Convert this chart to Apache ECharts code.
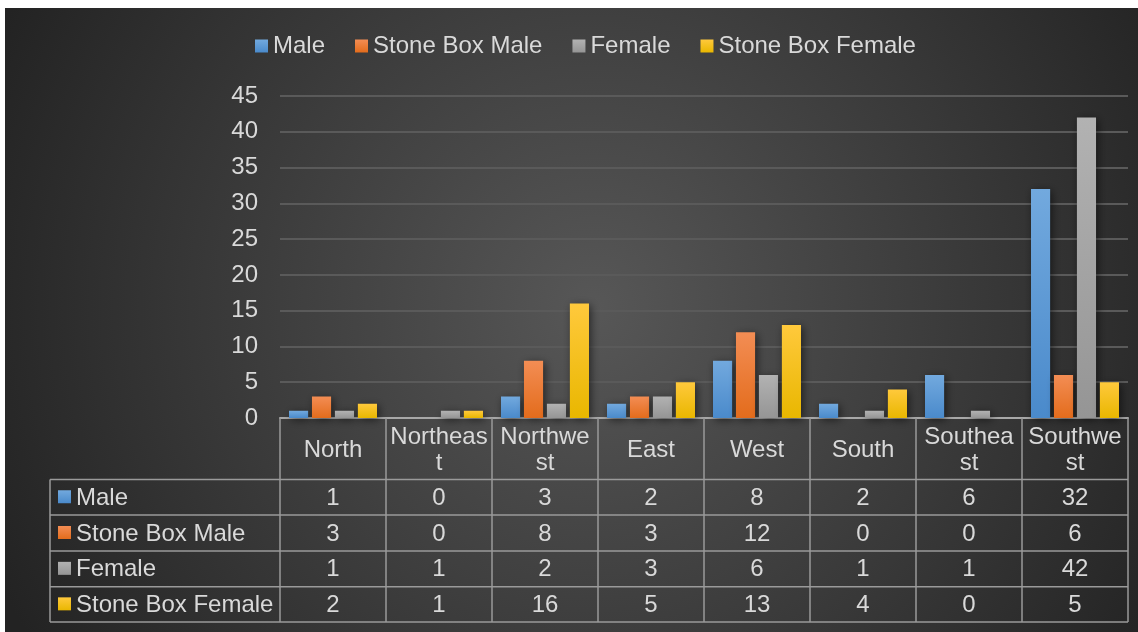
<!DOCTYPE html>
<html>
<head>
<meta charset="utf-8">
<script src="https://cdn.jsdelivr.net/npm/echarts@6/dist/echarts.min.js"></script>
<style>
html,body{margin:0;padding:0;background:#fff;}
#c{width:1138px;height:632px;}
</style>
</head>
<body>
<div id="c"></div>
<script>
var categories = ['North','Northeast','Northwest','East','West','South','Southeast','Southwest'];
var categoryLabels = ['North','Northeas\nt','Northwe\nst','East','West','South','Southea\nst','Southwe\nst'];
var seriesNames = ['Male','Stone Box Male','Female','Stone Box Female'];
var male = [1,0,3,2,8,2,6,32];
var stoneBoxMale = [3,0,8,3,12,0,0,6];
var female = [1,1,2,3,6,1,1,42];
var stoneBoxFemale = [2,1,16,5,13,4,0,5];
var yTicks = {min:0, max:45, interval:5};

var seriesData = [male, stoneBoxMale, female, stoneBoxFemale];
var palettes = [
  ['#72a9de','#4a8acb'],
  ['#f38d54','#e36c1c'],
  ['#b2b2b2','#959595'],
  ['#ffc93c','#e9b700']
];
var FONT = 'Liberation Sans, Arial, sans-serif';
var TXT = '#d9d9d9';
var LINE = '#9a9a9a';

function grad(p){
  return new echarts.graphic.LinearGradient(0,0,0,1,[{offset:0,color:p[0]},{offset:1,color:p[1]}]);
}

var chart = echarts.init(document.getElementById('c'), null, {renderer:'canvas'});

var series = seriesNames.map(function(n,i){
  return {
    name:n, type:'bar', data:seriesData[i],
    barGap:'20%', barCategoryGap:'17%',
    itemStyle:{color:grad(palettes[i]), shadowColor:'rgba(0,0,0,0.55)', shadowBlur:8, shadowOffsetX:2, shadowOffsetY:2},
    emphasis:{disabled:true}
  };
});

var option = {
  backgroundColor:'#ffffff',
  animation:false,
  textStyle:{fontFamily:FONT},
  legend:{
    left:255, top:34, padding:0, itemWidth:13, itemHeight:13, itemGap:30,
    icon:'rect',
    textStyle:{color:TXT, fontSize:24, fontFamily:FONT},
    data:seriesNames.map(function(n,i){return {name:n, itemStyle:{color:grad(palettes[i]), shadowBlur:0}};})
  },
  grid:{left:280, right:10, top:96, bottom:214, containLabel:false},
  xAxis:{
    type:'category', data:categories,
    axisLine:{show:true, lineStyle:{color:'#a8a8a8', width:2}},
    axisTick:{show:false},
    axisLabel:{
      interval:0, color:TXT, fontSize:24, fontFamily:FONT, margin:32,
      verticalAlign:'middle', lineHeight:26,
      formatter:function(v,idx){return categoryLabels[idx];}
    },
    splitLine:{show:false}
  },
  yAxis:{
    type:'value', min:yTicks.min, max:yTicks.max, interval:yTicks.interval,
    axisLine:{show:false}, axisTick:{show:false},
    axisLabel:{color:TXT, fontSize:24, fontFamily:FONT, margin:22},
    splitLine:{lineStyle:{color:'#5a5a5a', width:2}}
  },
  graphic:{elements:[{
    type:'rect', z:-100, silent:true,
    shape:{x:5, y:8, width:1133, height:624},
    style:{fill:{type:'radial', x:0.52, y:0.48, r:1.05, colorStops:[{offset:0,color:'#575757'},{offset:1,color:'#232323'}]}}
  }]},
  series:series
};
chart.setOption(option);

// build data table from axis scale
var headerTop = chart.convertToPixel({yAxisIndex:0}, 0);
var rowBounds = [479.5, 515, 551, 586.7, 622];
var tableLeft = 50;
var bounds = [];
var c0 = chart.convertToPixel({xAxisIndex:0}, 0);
var c1 = chart.convertToPixel({xAxisIndex:0}, 1);
var step = c1 - c0;
for (var k=0;k<=categories.length;k++){
  bounds.push(c0 - step/2 + k*step);
}
var right = bounds[bounds.length-1];
var els = [option.graphic.elements[0]];
function hline(y,x1,x2){els.push({type:'line',z:50,silent:true,shape:{x1:x1,y1:y,x2:x2,y2:y},style:{stroke:LINE,lineWidth:1.5}});}
function vline(x,y1,y2){els.push({type:'line',z:50,silent:true,shape:{x1:x,y1:y1,x2:x,y2:y2},style:{stroke:LINE,lineWidth:1.5}});}
rowBounds.forEach(function(y){hline(y,tableLeft,right);});
bounds.forEach(function(x){vline(x,headerTop,rowBounds[rowBounds.length-1]);});
vline(tableLeft,rowBounds[0],rowBounds[rowBounds.length-1]);
seriesNames.forEach(function(n,r){
  var cy = (rowBounds[r]+rowBounds[r+1])/2;
  els.push({type:'rect',z:50,silent:true,shape:{x:58,y:cy-7,width:13,height:13},style:{fill:grad(palettes[r])}});
  els.push({type:'text',z:50,silent:true,x:76,y:cy+1,style:{text:n,fill:TXT,font:'24px '+FONT,textAlign:'left',textVerticalAlign:'middle'}});
  seriesData[r].forEach(function(v,i){
    var cx = chart.convertToPixel({xAxisIndex:0}, i);
    els.push({type:'text',z:50,silent:true,x:cx,y:cy+1,style:{text:String(v),fill:TXT,font:'24px '+FONT,textAlign:'center',textVerticalAlign:'middle'}});
  });
});
chart.setOption({graphic:{elements:els}}, {replaceMerge:['graphic']});
</script>
</body>
</html>
